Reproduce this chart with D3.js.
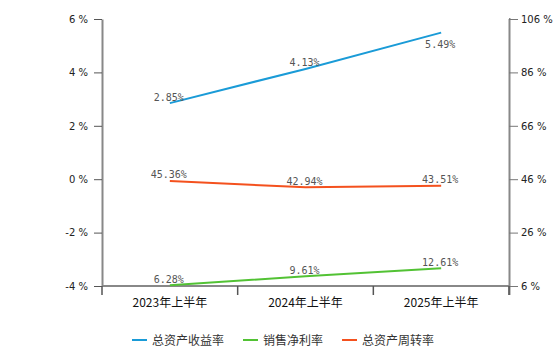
<!DOCTYPE html>
<html>
<head>
<meta charset="utf-8">
<script src="https://cdn.jsdelivr.net/npm/d3@7"></script>
<style>
  html, body { margin: 0; padding: 0; background: #fff; }
  svg { display: block; }
</style>
</head>
<body>
<svg id="chart" width="560" height="346"></svg>
<script>
// Periods on the x axis
const periods = ["2023年上半年", "2024年上半年", "2025年上半年"];

// Series values (%)
const roaValues = [2.85, 4.13, 5.49];        // 总资产收益率, left axis
const netMarginValues = [6.28, 9.61, 12.61]; // 销售净利率, right axis
const turnoverValues = [45.36, 42.94, 43.51]; // 总资产周转率, right axis

// Axis tick values
const leftTicks = [-4, -2, 0, 2, 4, 6];
const rightTicks = [6, 26, 46, 66, 86, 106];

const seriesNames = ["总资产收益率", "销售净利率", "总资产周转率"];
const seriesColors = ["#1a9bd7", "#52c234", "#f4511e"];

const svg = d3.select("#chart");
const plot = { left: 102, right: 509, top: 19, bottom: 286 };

const x = d3.scaleBand().domain(periods).range([plot.left, plot.right]).padding(0);
const yLeft = d3.scaleLinear().domain([-4, 6]).range([plot.bottom, plot.top]);
const yRight = d3.scaleLinear().domain([6, 106]).range([plot.bottom, plot.top]);
const cx = d => x(d) + x.bandwidth() / 2;

const tickFont = "'DejaVu Sans', sans-serif";

// Left axis
const gl = svg.append("g").attr("transform", `translate(${plot.left},0)`)
  .call(d3.axisLeft(yLeft).tickValues(leftTicks).tickSize(8).tickSizeOuter(0).tickPadding(6)
    .tickFormat(d => d + " %"));
gl.select(".domain").attr("stroke", "#888").attr("stroke-width", 2);
gl.selectAll(".tick line").attr("stroke", "#555");
gl.selectAll(".tick text").attr("fill", "#222").style("font", `10px ${tickFont}`);

// Right axis
const gr = svg.append("g").attr("transform", `translate(${plot.right},0)`)
  .call(d3.axisRight(yRight).tickValues(rightTicks).tickSize(9).tickSizeOuter(0).tickPadding(3)
    .tickFormat(d => d + " %"));
gr.select(".domain").attr("stroke", "#888").attr("stroke-width", 2)
  .attr("d", `M0,${plot.top}H0.5V${plot.bottom + 9}`);
gr.selectAll(".tick line").attr("stroke", "#777");
gr.selectAll(".tick text").attr("fill", "#222").style("font", `10px ${tickFont}`);

// Bottom axis with ticks at band boundaries
const gb = svg.append("g").attr("transform", `translate(0,${plot.bottom})`);
gb.append("line").attr("x1", plot.left).attr("x2", plot.right)
  .attr("stroke", "#888").attr("stroke-width", 2);
const boundaries = periods.map(p => x(p)).concat([plot.right]);
gb.selectAll("line.tk").data(boundaries).join("line").attr("class", "tk")
  .attr("x1", d => d).attr("x2", d => d).attr("y1", 0).attr("y2", 9)
  .attr("stroke", "#555").attr("stroke-width", 1.5);
gb.selectAll("text").data(periods).join("text")
  .attr("x", d => cx(d)).attr("y", 21).attr("text-anchor", "middle")
  .attr("fill", "#111")
  .style("font", "12px 'Noto Sans CJK SC', sans-serif")
  .text(d => d);

// Lines and value labels
const series = [
  { values: roaValues, y: yLeft, color: seriesColors[0] },
  { values: netMarginValues, y: yRight, color: seriesColors[1] },
  { values: turnoverValues, y: yRight, color: seriesColors[2] }
];

series.forEach(s => {
  const pts = s.values.map((v, i) => ({ p: periods[i], v }));
  svg.append("path").datum(pts)
    .attr("fill", "none").attr("stroke", s.color).attr("stroke-width", 2)
    .attr("d", d3.line().x(d => cx(d.p)).y(d => s.y(d.v)));
  svg.selectAll(null).data(pts).join("text")
    .attr("x", d => cx(d.p) - 1)
    .attr("y", d => {
      const py = s.y(d.v);
      // labels too close to the top edge go below the point
      return py < 40 ? py + 15 : py - 2.5;
    })
    .attr("text-anchor", "middle")
    .attr("fill", "#555")
    .style("font", "10px 'DejaVu Sans Mono', monospace")
    .text(d => d.v.toFixed(2) + "%");
});

// Legend
const legend = svg.append("g").attr("transform", "translate(132,340)");
let lx = 0;
seriesNames.forEach((name, i) => {
  const g = legend.append("g").attr("transform", `translate(${lx},0)`);
  g.append("line").attr("x1", 0).attr("x2", 15).attr("y1", 0).attr("y2", 0)
    .attr("stroke", seriesColors[i]).attr("stroke-width", 2);
  const t = g.append("text").attr("x", 20).attr("y", 4.5)
    .attr("fill", "#333")
    .style("font", "12px 'Noto Sans CJK SC', sans-serif")
    .text(name);
  lx += 20 + t.node().getComputedTextLength() + 19;
});
</script>
</body>
</html>
